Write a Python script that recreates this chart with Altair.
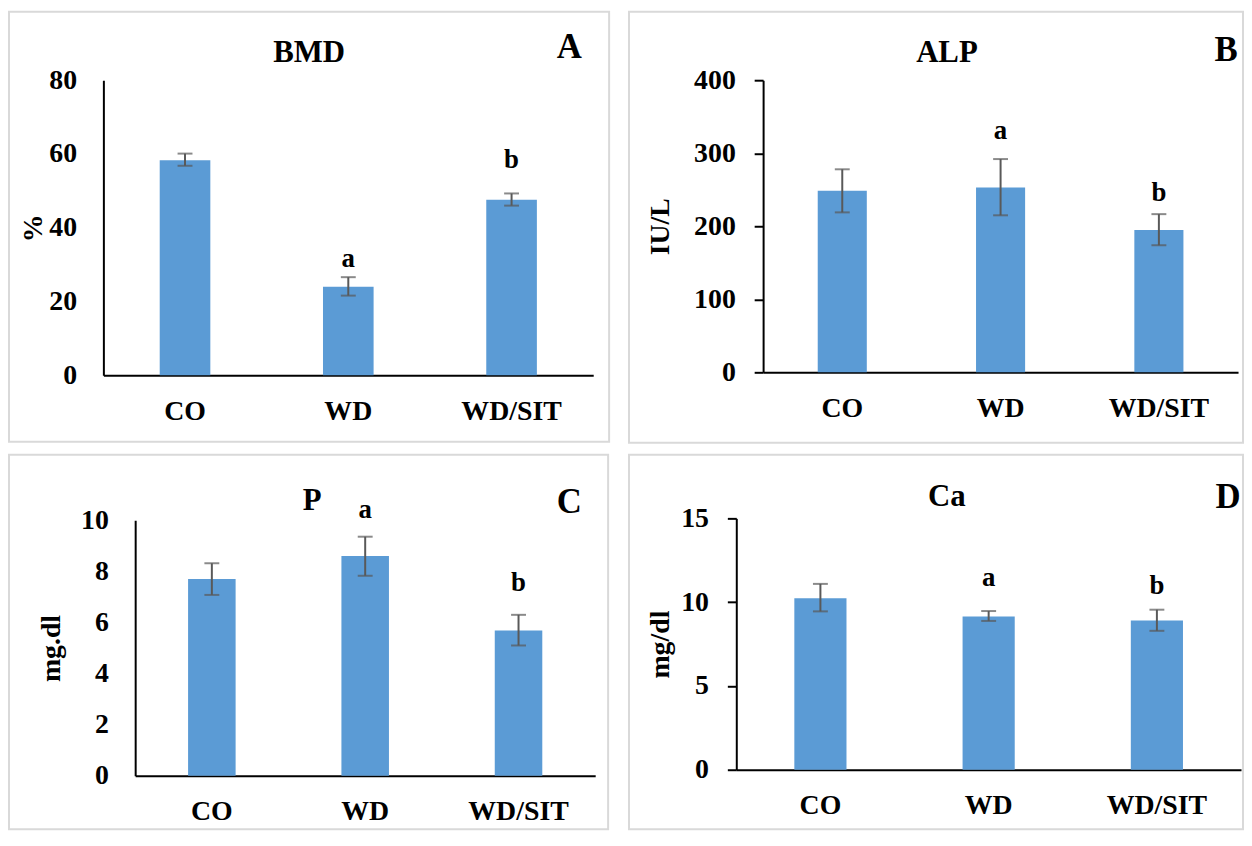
import altair as alt
import pandas as pd

groups = ["CO", "WD", "WD/SIT"]

bmd_mean = [58.3, 24.0, 47.6]
bmd_hi = [60.1, 26.6, 49.3]
bmd_lo = [56.8, 21.6, 46.0]
bmd_letters = ["a", "b"]
bmd_letter_groups = ["WD", "WD/SIT"]
bmd_letter_y = [29.3, 56.3]

alp_mean = [248.6, 253.0, 195.0]
alp_hi = [278.0, 292.0, 216.6]
alp_lo = [219.0, 215.0, 174.0]
alp_letters = ["a", "b"]
alp_letter_groups = ["WD", "WD/SIT"]
alp_letter_y = [320.0, 235.0]

p_mean = [7.70, 8.60, 5.69]
p_hi = [8.32, 9.36, 6.30]
p_lo = [7.08, 7.83, 5.10]
p_letters = ["a", "b"]
p_letter_groups = ["WD", "WD/SIT"]
p_letter_y = [10.1, 7.25]

ca_mean = [10.24, 9.15, 8.90]
ca_hi = [11.09, 9.47, 9.55]
ca_lo = [9.45, 8.88, 8.29]
ca_letters = ["a", "b"]
ca_letter_groups = ["WD", "WD/SIT"]
ca_letter_y = [10.95, 10.5]

FONT = "Liberation Serif"
BLUE = "#5b9bd5"
ERR = "#595959"
BORDER = "#d9d9d9"


def panel(title, letter, ytitle, mean, hi, lo, lgroups, lletters, ly,
          ymax, ystep, w, h, ticks, title_xy, letter_xy, ytitle_x, rect, shift=0):
    df = pd.DataFrame({"group": groups, "mean": mean, "hi": hi, "lo": lo})
    ldf = pd.DataFrame({"group": lgroups, "letter": lletters, "ly": ly})

    if shift:
        xscale = alt.Scale(paddingInner=0.69, paddingOuter=0.345,
                           range=[-shift, w - shift])
        view_w = w - shift
    else:
        xscale = alt.Scale(paddingInner=0.69, paddingOuter=0.345)
        view_w = w
    xaxis = alt.Axis(title=None, labelAngle=0, ticks=False, tickSize=0,
                     labelPadding=22, domainColor="black", domainWidth=2,
                     labelFont=FONT, labelFontSize=28, labelFontWeight="bold",
                     labelColor="black")
    yscale = alt.Scale(domain=[0, ymax], nice=False, zero=True)
    yaxis = alt.Axis(title=ytitle, values=list(range(0, ymax + 1, ystep)),
                     grid=False, ticks=ticks, tickSize=9 if ticks else 0,
                     tickColor="black", tickWidth=2,
                     labelPadding=19 if ticks else 27,
                     domainColor="black", domainWidth=2, offset=shift,
                     labelFont=FONT, labelFontSize=28, labelFontWeight="bold",
                     labelColor="black",
                     titleFont=FONT, titleFontSize=28, titleFontWeight="bold",
                     titleColor="black", titleX=ytitle_x, titleY=h / 2,
                     titleBaseline="middle", titleAlign="center")

    x = alt.X("group:N", sort=groups, scale=xscale, axis=xaxis)

    def y(field):
        return alt.Y(field, scale=yscale, axis=yaxis)

    border = alt.Chart(pd.DataFrame({"k": [0]})).mark_rect(
        fillOpacity=0, stroke=BORDER, strokeWidth=2
    ).encode(x=alt.value(rect[0]), x2=alt.value(rect[2]),
             y=alt.value(rect[1]), y2=alt.value(rect[3]))

    base = alt.Chart(df)
    bars = base.mark_bar(color=BLUE).encode(x=x, y=y("mean:Q"))
    rules = base.mark_rule(color=ERR, strokeWidth=2).encode(
        x=x, y=y("lo:Q"), y2="hi:Q")
    cap_hi = base.mark_tick(color=ERR, thickness=2, size=15).encode(
        x=x, y=y("hi:Q"))
    cap_lo = base.mark_tick(color=ERR, thickness=2, size=15).encode(
        x=x, y=y("lo:Q"))
    letters = alt.Chart(ldf).mark_text(
        font=FONT, fontSize=27, fontWeight="bold", color="black",
        baseline="alphabetic", align="center"
    ).encode(x=x, y=y("ly:Q"), text="letter:N")

    ttl = alt.Chart(pd.DataFrame({"t": [title]})).mark_text(
        font=FONT, fontSize=31, fontWeight="bold", color="black",
        baseline="middle", align="center"
    ).encode(x=alt.value(title_xy[0]), y=alt.value(title_xy[1]), text="t:N")
    lab = alt.Chart(pd.DataFrame({"t": [letter]})).mark_text(
        font=FONT, fontSize=35, fontWeight="bold", color="black",
        baseline="middle", align="center"
    ).encode(x=alt.value(letter_xy[0]), y=alt.value(letter_xy[1]), text="t:N")

    return alt.layer(border, bars, rules, cap_hi, cap_lo, letters, ttl, lab).properties(
        width=view_w, height=h)


A = panel("BMD", "A", "%", bmd_mean, bmd_hi, bmd_lo, bmd_letter_groups, bmd_letters,
          bmd_letter_y, 80, 20, 493, 297, False, (175, -27), (437, -33), -70,
          (-127, -69, 477, 364), shift=32)
B = panel("ALP", "B", "IU/L", alp_mean, alp_hi, alp_lo, alp_letter_groups, alp_letters,
          alp_letter_y, 400, 100, 478, 294, True, (185, -27), (466, -30), -103,
          (-135, -69, 483, 365))
C = panel("P", "C", "mg.dl", p_mean, p_hi, p_lo, p_letter_groups, p_letters,
          p_letter_y, 10, 2, 463, 257, False, (178, -19), (437, -18), -84,
          (-127, -66, 476, 311))
D = panel("Ca", "D", "mg/dl", ca_mean, ca_hi, ca_lo, ca_letter_groups, ca_letters,
          ca_letter_y, 15, 5, 508, 253, True, (212, -21), (495, -21), -76,
          (-108, -64, 510, 313))

chart = alt.concat(
    A, B, C, D, columns=2, align="none", bounds="full",
    spacing={"row": 10, "column": 3},
).properties(padding=0).configure(font=FONT).configure_view(strokeOpacity=0)

chart.save("out.html", embed_options={"renderer": "svg", "actions": False})
